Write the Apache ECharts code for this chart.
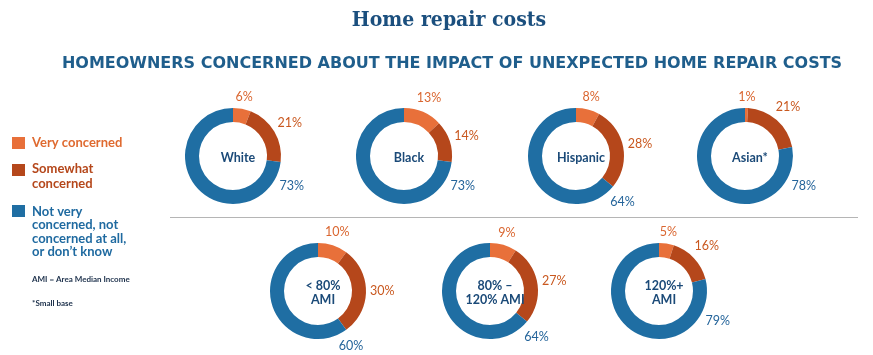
<!DOCTYPE html>
<html><head><meta charset="utf-8">
<script src="https://cdn.jsdelivr.net/npm/echarts@6/dist/echarts.min.js"></script>
<style>html,body{margin:0;padding:0;background:#fff}#c{width:873px;height:355px}</style>
</head><body><div id="c"></div>
<script>
const categories = ['White', 'Black', 'Hispanic', 'Asian*', '< 80%\nAMI', '80% –\n120% AMI', '120%+\nAMI'];
const veryConcerned = [6, 13, 8, 1, 10, 9, 5];
const somewhatConcerned = [21, 14, 28, 21, 30, 27, 16];
const notConcerned = [73, 73, 64, 78, 60, 64, 79];
const seriesNames = ['Very concerned', 'Somewhat concerned', 'Not very concerned, not concerned at all, or don’t know'];

const COLORS = ['#E8703A', '#B5471B', '#1F6EA3'];
const LABEL_COLORS = ['#DA6630', '#C9581F', '#24649A'];
const centers = [[233, 156], [404, 156], [576, 156], [745, 156], [318, 291], [490, 291], [659, 291]];
const R_OUT = 48, R_IN = 34;

const chart = echarts.init(document.getElementById('c'), null, {renderer: 'canvas'});

function makeLayout(si) {
  return function (p) {
    const j = p.dataIndex;
    const vals = [veryConcerned[si], somewhatConcerned[si], notConcerned[si]];
    const total = vals[0] + vals[1] + vals[2];
    let before = 0;
    for (let k = 0; k < j; k++) before += vals[k];
    let ang;
    if (j < 2) {
      ang = (before + vals[j] / 2) / total * 360;
    } else {
      ang = Math.max(before / total * 360 + 5, 117);
    }
    const a = ang * Math.PI / 180;
    const hw = p.labelRect.width / 2, hh = p.labelRect.height / 2;
    const r = R_OUT + 4 + Math.abs(Math.sin(a)) * hw + Math.abs(Math.cos(a)) * hh;
    const c = centers[si];
    return {x: c[0] + r * Math.sin(a), y: c[1] - r * Math.cos(a), align: 'center', verticalAlign: 'middle'};
  };
}

const series = categories.map((cat, i) => ({
  type: 'pie',
  name: cat,
  center: centers[i],
  radius: [R_IN, R_OUT],
  startAngle: 90,
  clockwise: true,
  avoidLabelOverlap: false,
  silent: true,
  labelLine: {show: false},
  label: {show: true, position: 'outside', formatter: '{c}%', fontFamily: 'Lato', fontSize: 12.5},
  labelLayout: makeLayout(i),
  data: [
    {name: seriesNames[0], value: veryConcerned[i], itemStyle: {color: COLORS[0]}, label: {color: LABEL_COLORS[0]}},
    {name: seriesNames[1], value: somewhatConcerned[i], itemStyle: {color: COLORS[1]}, label: {color: LABEL_COLORS[1]}},
    {name: seriesNames[2], value: notConcerned[i], itemStyle: {color: COLORS[2]}, label: {color: LABEL_COLORS[2]}}
  ]
}));

const titles = [
  {text: 'Home repair costs', left: 444, top: 5, textAlign: 'center',
   textStyle: {fontFamily: 'DejaVu Serif Condensed', fontWeight: 'bold', fontSize: 21, color: '#1B4F7E'}},
  {text: 'HOMEOWNERS CONCERNED ABOUT THE IMPACT OF UNEXPECTED HOME REPAIR COSTS', left: 447, top: 51, textAlign: 'center',
   textStyle: {fontFamily: 'DejaVu Sans', fontWeight: 'bold', fontSize: 16, color: '#1F5E8C'}}
];
categories.forEach((cat, i) => {
  titles.push({text: cat, left: centers[i][0], top: centers[i][1] - 3, textAlign: 'center', textVerticalAlign: 'middle',
    textStyle: {fontFamily: 'Lato', fontWeight: 'bold', fontSize: 12.5, lineHeight: 14, color: '#1B4A78'}});
});

const graphic = [
  {type: 'line', shape: {x1: 170, y1: 217.5, x2: 858, y2: 217.5}, style: {stroke: '#B5B5B5', lineWidth: 1}},
  {type: 'rect', shape: {x: 12, y: 137, width: 13, height: 12}, style: {fill: COLORS[0]}},
  {type: 'text', x: 32, y: 143, style: {text: 'Very concerned', fill: '#DF6A30', font: 'bold 13px Lato', verticalAlign: 'middle'}},
  {type: 'rect', shape: {x: 12, y: 164, width: 13, height: 12}, style: {fill: COLORS[1]}},
  {type: 'text', x: 32, y: 161, style: {text: 'Somewhat\nconcerned', fill: '#B5471B', font: 'bold 13px Lato', lineHeight: 15, verticalAlign: 'top'}},
  {type: 'rect', shape: {x: 12, y: 205, width: 13, height: 12}, style: {fill: COLORS[2]}},
  {type: 'text', x: 32, y: 205, style: {text: 'Not very\nconcerned, not\nconcerned at all,\nor don’t know', fill: '#1F6AA0', font: 'bold 13px Lato', lineHeight: 13.5, verticalAlign: 'top'}},
  {type: 'text', x: 32, y: 279, style: {text: 'AMI = Area Median Income', fill: '#1B2F4A', font: 'bold 8px Lato', verticalAlign: 'middle'}},
  {type: 'text', x: 32, y: 303, style: {text: '*Small base', fill: '#1B2F4A', font: 'bold 8px Lato', verticalAlign: 'middle'}}
];

chart.setOption({animation: false, title: titles, series, graphic});
</script></body></html>
